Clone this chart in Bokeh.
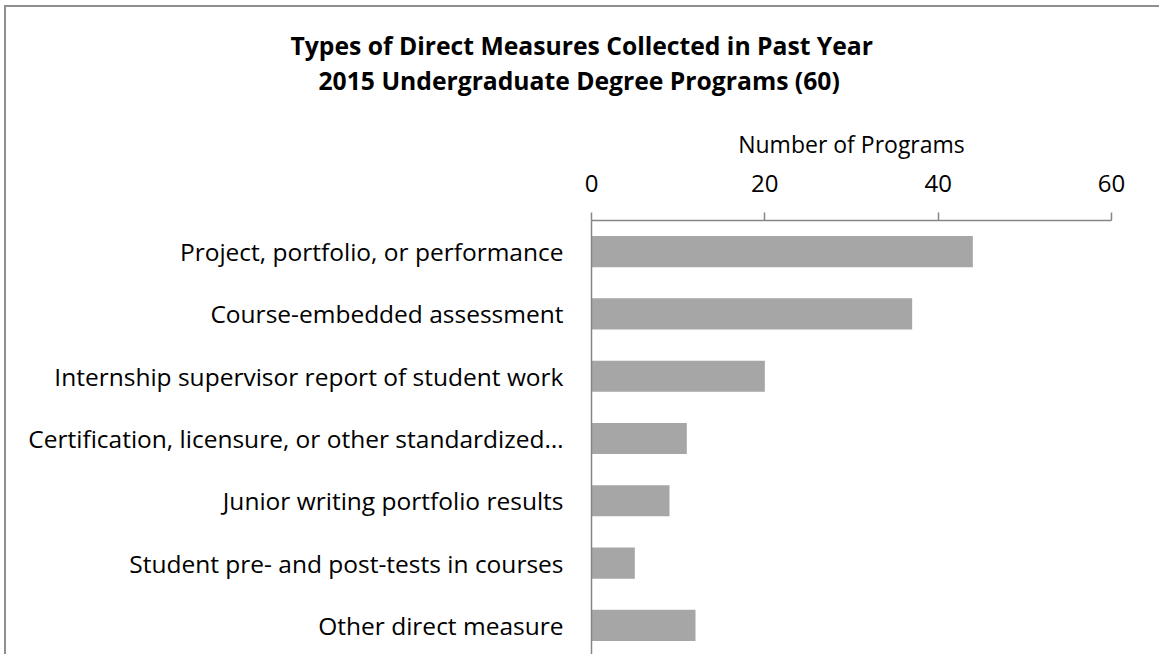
from bokeh.plotting import figure
from bokeh.models import Range1d, FactorRange, FixedTicker, Title
from bokeh.embed import file_html
from bokeh.resources import INLINE

categories = [
    "Project, portfolio, or performance",
    "Course-embedded assessment",
    "Internship supervisor report of student work",
    "Certification, licensure, or other standardized…",
    "Junior writing portfolio results",
    "Student pre- and post-tests in courses",
    "Other direct measure",
]
values = [44, 37, 20, 11, 9, 5, 12]
x_ticks = [0, 20, 40, 60]
title_lines = ["Types of Direct Measures Collected in Past Year",
               "2015 Undergraduate Degree Programs (60)"]
x_label = "Number of Programs"

FONT = "Open Sans"
AXIS_GRAY = "#868686"

p = figure(width=1155, height=649, output_backend="svg", toolbar_location=None,
           y_range=FactorRange(factors=categories[::-1], range_padding=0),
           x_range=Range1d(0, 60), x_axis_location="above",
           min_border_left=585, min_border_right=50, min_border_top=213,
           min_border_bottom=0)
p.styles = {"margin-left": "4px", "margin-top": "5px",
            "border-left": "2px solid #8f8f8f", "border-top": "2px solid #8f8f8f"}
p.outline_line_color = None
p.background_fill_color = "white"
p.border_fill_color = "white"
p.xgrid.visible = False
p.ygrid.visible = False

p.hbar(y=categories, right=values, left=0, height=0.5, fill_color="#a6a6a6",
       line_color=None)

xa = p.xaxis[0]
xa.ticker = FixedTicker(ticks=x_ticks)
xa.axis_label = x_label
xa.axis_label_text_font = FONT
xa.axis_label_text_font_size = "23px"
xa.axis_label_text_font_style = "normal"
xa.axis_label_text_color = "black"
xa.axis_label_standoff = 12
xa.major_label_text_font = FONT
xa.major_label_text_font_size = "24px"
xa.major_label_text_color = "black"
xa.major_label_standoff = 21
xa.axis_line_color = AXIS_GRAY
xa.axis_line_width = 1.5
xa.major_tick_line_color = AXIS_GRAY
xa.major_tick_line_width = 1.5
xa.major_tick_out = 8
xa.major_tick_in = 0
xa.minor_tick_line_color = None

ya = p.yaxis[0]
ya.major_label_text_font = FONT
ya.major_label_text_font_size = "24.5px"
ya.major_label_text_color = "black"
ya.major_label_standoff = 22
ya.axis_line_color = AXIS_GRAY
ya.axis_line_width = 1.5
ya.major_tick_line_color = None
ya.minor_tick_line_color = None

# spacer between the axis label and the title block
p.add_layout(Title(text=" ", text_font_size="1px", standoff=25), "above")
# Title: two lines, stacked above (line 2 closest to the axis)
for txt, off in [(title_lines[1], -273), (title_lines[0], -301)]:
    t = Title(text=txt, align="left", offset=off, standoff=0,
              text_font=FONT, text_font_size="24.7px", text_font_style="bold",
              text_color="black")
    p.add_layout(t, "above")

open("out.html", "w").write(file_html(p, INLINE))
